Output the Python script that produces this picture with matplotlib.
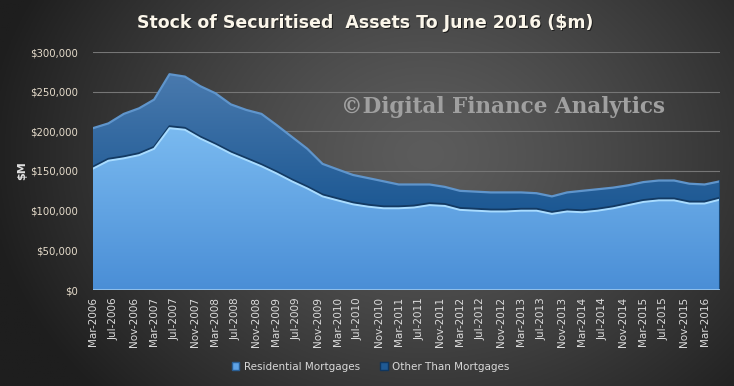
import numpy as np
import pandas as pd
import matplotlib
matplotlib.use("Agg")
import matplotlib.pyplot as plt
import matplotlib.dates as mdates
from matplotlib.patches import Patch
from matplotlib.colors import LinearSegmentedColormap
from matplotlib.ticker import FuncFormatter

# ----------------------------
# Data ($m, quarterly, Mar-2006 .. Jun-2016)
# ----------------------------
quarters = pd.date_range("2006-03-01", "2016-06-01", freq="3MS")

residential = [153000, 163000, 166000, 170000, 178000, 204000, 202000, 191000,
               182000, 172000, 164000, 156000, 147000, 137000, 128000, 118000,
               113000, 108000, 105000, 103000, 103000, 104000, 107000, 106000,
               101000, 100000, 99000, 99000, 100000, 100000, 96000, 99000,
               98000, 100000, 103000, 107000, 111000, 113000, 113000, 109000,
               109000, 114000]

other = [51000, 47000, 56000, 59000, 62000, 68000, 67000, 66000,
         66000, 62000, 63000, 66000, 61000, 56000, 50000, 41000,
         39000, 37000, 36000, 34000, 30000, 29000, 26000, 24000,
         24000, 24000, 24000, 24000, 23000, 22000, 22000, 24000,
         27000, 27000, 26000, 25000, 25000, 25000, 25000, 25000,
         24000, 23000]

tick_dates = pd.date_range("2006-03-01", "2016-03-01", freq="4MS")
tick_labels = [d.strftime("%b-%Y") for d in tick_dates]

series_names = ["Residential Mortgages", "Other Than Mortgages"]

res = np.array(residential)
tot = res + np.array(other)

# ----------------------------
# Figure + background
# ----------------------------
fig = plt.figure(figsize=(7.34, 3.86), dpi=100)

bg = fig.add_axes([0, 0, 1, 1])
xx, yy = np.meshgrid(np.linspace(0, 1, 400), np.linspace(0, 1, 220))
d = np.sqrt(((xx - 0.58) / 0.62) ** 2 + ((yy - 0.40) / 0.95) ** 2)
v = np.clip(92 - 64 * d ** 1.3, 30, 92) / 255.0
bg.imshow(np.dstack([v, v, v]), aspect="auto", extent=[0, 1, 0, 1])
bg.set_axis_off()

ax = fig.add_axes([93 / 734, 1 - 290 / 386, 627 / 734, 238 / 386])
ax.patch.set_alpha(0)

x = mdates.date2num(quarters)


def gradient_area(poly, c_top, c_bottom, y0, y1):
    cmap = LinearSegmentedColormap.from_list("g", [c_bottom, c_top])
    grad = np.linspace(0, 1, 256).reshape(-1, 1)
    im = ax.imshow(grad, cmap=cmap, aspect="auto", origin="lower",
                   extent=[x[0], x[-1], y0, y1], zorder=poly.get_zorder())
    im.set_clip_path(poly.get_paths()[0], transform=ax.transData)
    poly.set_facecolor("none")


p_res = ax.fill_between(x, 0, res, lw=0, zorder=2)
gradient_area(p_res, "#7abaf0", "#4a8ed6", 0, 205000)

p_oth = ax.fill_between(x, res, tot, lw=0, zorder=2)
gradient_area(p_oth, "#4a7aae", "#1c5893", 100000, 275000)

# bevel-ish edges
ax.plot(x, tot, color="#5f95cc", lw=1.6, zorder=3)
ax.plot(x, res + 2200, color="#133a63", lw=1.6, zorder=3)
ax.plot(x, res, color="#a9dcff", lw=1.4, zorder=3)
ax.plot([x[-1], x[-1]], [0, tot[-1]], color="#1a4a7a", lw=1.5, zorder=3)
ax.axhline(0, color="#9cc8ee", lw=1.2, zorder=3)

ax.set_xlim(x[0], x[-1])
ax.set_ylim(0, 300000)
ax.set_yticks(np.arange(0, 300001, 50000))
ax.yaxis.set_major_formatter(FuncFormatter(lambda v, p: "${:,.0f}".format(v)))
ax.set_xticks(mdates.date2num(tick_dates))
ax.set_xticklabels(tick_labels, rotation=90)

ax.grid(axis="y", color="#767676", lw=0.8, zorder=1)
ax.set_axisbelow(True)
for s in ax.spines.values():
    s.set_visible(False)
ax.tick_params(axis="both", length=0)
ax.tick_params(axis="y", colors="#e6dccb", labelsize=7.3, pad=11)
ax.tick_params(axis="x", colors="#dcdcdc", labelsize=7.5, pad=5)

ax.set_ylabel("$M", color="#e0e0e0", fontsize=8, fontweight="bold", labelpad=2)

# title
title = "Stock of Securitised  Assets To June 2016 ($m)"
fig.text(0.499, 0.937, title, ha="center", va="center", color="#1e1e1e",
         fontsize=12.5, fontweight="bold")
fig.text(0.497, 0.941, title, ha="center", va="center", color="#fbf6ea",
         fontsize=12.5, fontweight="bold")

# watermark
fig.text(0.685, 0.722, "\u00a9Digital Finance Analytics", ha="center",
         va="center", color="#a0a0a0", fontsize=15.5, fontweight="bold",
         family="DejaVu Serif")

# legend
handles = [Patch(facecolor="#5fa3e6", edgecolor="#2a5f95"),
           Patch(facecolor="#1f5a94", edgecolor="#10365e")]
fig.legend(handles, series_names, loc="center", bbox_to_anchor=(0.505, 0.05),
           ncol=2, frameon=False, fontsize=7.5, labelcolor="#d8d8d8",
           handlelength=0.7, handleheight=0.7, handletextpad=0.4,
           columnspacing=2.0)

plt.savefig("out.png", dpi=100)
plt.close()
print("saved")
